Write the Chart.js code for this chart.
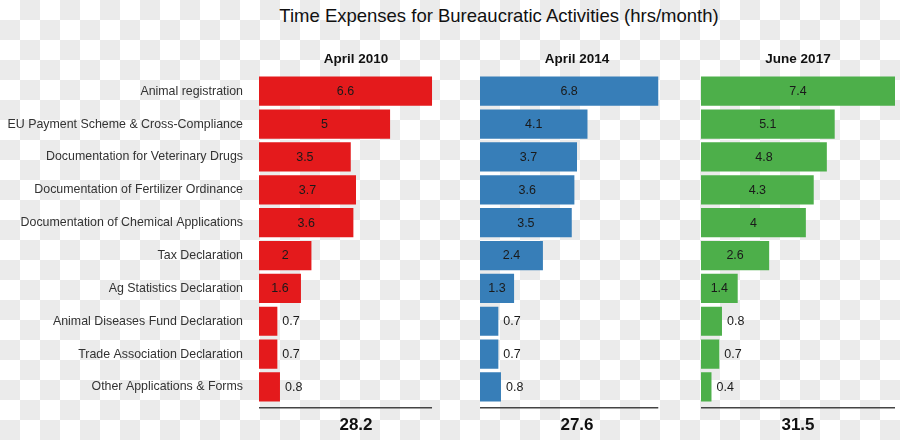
<!DOCTYPE html>
<html>
<head>
<meta charset="utf-8">
<script src="https://cdn.jsdelivr.net/npm/chart.js@4.4.1/dist/chart.umd.min.js"></script>
<style>
  html, body { margin: 0; padding: 0; }
  body {
    width: 900px; height: 440px; position: relative; overflow: hidden;
    font-family: "Liberation Sans", Arial, sans-serif;
    background: repeating-conic-gradient(#ebebeb 0 25%, #fff 0 50%) 0 0 / 40px 40px;
  }
  #title {
    position: absolute; left: 0; width: 998px; top: 5px;
    text-align: center; font-size: 18.5px; color: #111; white-space: nowrap;
  }
  canvas { position: absolute; top: 0; }
</style>
</head>
<body>
<div id="title">Time Expenses for Bureaucratic Activities (hrs/month)</div>
<canvas id="c1" width="460" height="440" style="left:0px"></canvas>
<canvas id="c2" width="210" height="440" style="left:472px"></canvas>
<canvas id="c3" width="207" height="440" style="left:693px"></canvas>
<script>
const categories = [
  'Animal registration',
  'EU Payment Scheme & Cross-Compliance',
  'Documentation for Veterinary Drugs',
  'Documentation of Fertilizer Ordinance',
  'Documentation of Chemical Applications',
  'Tax Declaration',
  'Ag Statistics Declaration',
  'Animal Diseases Fund Declaration',
  'Trade Association Declaration',
  'Other Applications & Forms'
];
const panelTitles = ['April 2010', 'April 2014', 'June 2017'];
const values2010 = [6.6, 5, 3.5, 3.7, 3.6, 2, 1.6, 0.7, 0.7, 0.8];
const values2014 = [6.8, 4.1, 3.7, 3.6, 3.5, 2.4, 1.3, 0.7, 0.7, 0.8];
const values2017 = [7.4, 5.1, 4.8, 4.3, 4, 2.6, 1.4, 0.8, 0.7, 0.4];
const totals = [28.2, 27.6, 31.5];
const colors = ['#e41a1c', '#377eb8', '#4daf4a'];

const xMax = Math.max(...values2010, ...values2014, ...values2017);

// value labels: inside the bar when it is wide enough, otherwise just right of it
const valueLabels = {
  id: 'valueLabels',
  afterDatasetsDraw(chart) {
    const ctx = chart.ctx;
    const meta = chart.getDatasetMeta(0);
    const data = chart.data.datasets[0].data;
    ctx.save();
    ctx.font = '12.5px "Liberation Sans", Arial, sans-serif';
    ctx.fillStyle = '#1a1a1a';
    ctx.textBaseline = 'middle';
    meta.data.forEach((bar, i) => {
      const v = data[i];
      if (v >= 1) {
        ctx.textAlign = 'center';
        ctx.fillText(String(v), (bar.x + bar.base) / 2, bar.y + 0.5);
      } else {
        ctx.textAlign = 'left';
        ctx.fillText(String(v), bar.x + 5, bar.y + 0.5);
      }
    });
    ctx.restore();
  }
};

// facet title on top, rule + total underneath
const panelDecor = {
  id: 'panelDecor',
  afterDraw(chart, args, opts) {
    const { ctx, chartArea } = chart;
    const x = chart.scales.x;
    const cx = (chartArea.left + chartArea.right) / 2;
    ctx.save();
    ctx.fillStyle = '#111';
    ctx.textAlign = 'center';
    ctx.textBaseline = 'middle';
    ctx.font = 'bold 13.5px "Liberation Sans", Arial, sans-serif';
    ctx.fillText(opts.title, cx, chartArea.top - 16);

    const ly = chartArea.bottom + 4.3;
    ctx.strokeStyle = '#444';
    ctx.lineWidth = 1.5;
    ctx.beginPath();
    ctx.moveTo(x.getPixelForValue(0), ly);
    ctx.lineTo(x.getPixelForValue(opts.lineTo), ly);
    ctx.stroke();

    ctx.font = 'bold 17px "Liberation Sans", Arial, sans-serif';
    ctx.fillText(String(opts.total), cx, chartArea.bottom + 21.5);
    ctx.restore();
  }
};

function makePanel(id, values, idx, showLabels, padL, padR) {
  return new Chart(document.getElementById(id), {
    type: 'bar',
    data: {
      labels: categories,
      datasets: [{
        data: values,
        backgroundColor: colors[idx],
        borderWidth: 0,
        barPercentage: 0.89,
        categoryPercentage: 1.0
      }]
    },
    options: {
      indexAxis: 'y',
      responsive: false,
      animation: false,
      devicePixelRatio: 1,
      layout: { padding: { top: 74.8, bottom: 36.6, left: padL, right: padR } },
      plugins: {
        legend: { display: false },
        tooltip: { enabled: false },
        panelDecor: { title: panelTitles[idx], total: totals[idx], lineTo: Math.max(...values) }
      },
      scales: {
        x: { min: 0, max: xMax, display: false },
        y: {
          display: showLabels,
          grid: { display: false, drawTicks: false },
          border: { display: false },
          ticks: {
            padding: 16,
            color: '#333',
            font: { family: '"Liberation Sans", Arial, sans-serif', size: 12.4 }
          },
          afterFit(s) { if (showLabels) s.width = 259; }
        }
      }
    },
    plugins: [valueLabels, panelDecor]
  });
}

makePanel('c1', values2010, 0, true, 0, 7);
makePanel('c2', values2014, 1, false, 8, 8);
makePanel('c3', values2017, 2, false, 8, 5);
</script>
</body>
</html>
